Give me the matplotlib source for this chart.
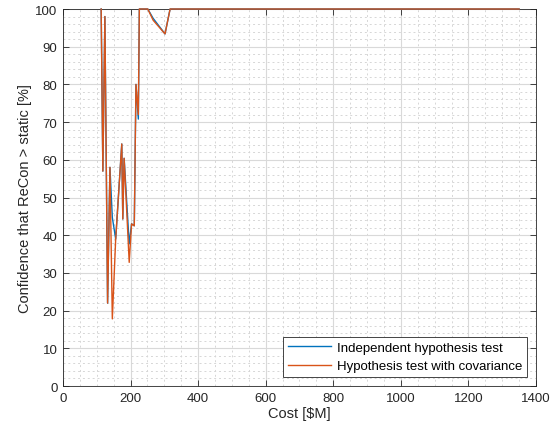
import matplotlib.pyplot as plt
from matplotlib.ticker import MultipleLocator

# ------------------------------------
# Data
# ------------------------------------
cost = [113, 118, 124, 132, 139, 146, 156, 174, 177, 181, 196, 203, 211,
        216, 223, 226, 251, 267, 302, 317, 1350]

# confidence [%] for each hypothesis test
conf_indep = [100, 57, 98, 22, 58, 44.7, 39, 64.2, 44.3, 60.4, 37.7, 43, 42.5,
              80, 70.8, 100, 100, 97.5, 93.4, 100, 100]
conf_cov = [100, 57, 98, 22, 58, 17.8, 39, 64.2, 44.3, 60.4, 32.8, 43, 42.5,
            80, 72, 100, 100, 97.0, 93.4, 100, 100]

blue = "#0072BD"
orange = "#D95319"

# ------------------------------------
# Figure
# ------------------------------------
plt.rcParams["font.family"] = ["Liberation Sans", "DejaVu Sans"]
fig = plt.figure(figsize=(5.54, 4.35), dpi=100)
ax = fig.add_axes([0.1137, 0.1103, 0.8538, 0.8667])

# lines sit on top of the box so the 100 % run stays visible
ax.plot(cost, conf_indep, color=blue, linewidth=1.0, clip_on=False,
        zorder=5, label="Independent hypothesis test")
ax.plot(cost, conf_cov, color=orange, linewidth=1.0, clip_on=False,
        zorder=6, label="Hypothesis test with covariance")

ax.set_xlim(0, 1400)
ax.set_ylim(0, 100)
ax.xaxis.set_major_locator(MultipleLocator(200))
ax.xaxis.set_minor_locator(MultipleLocator(50))
ax.yaxis.set_major_locator(MultipleLocator(10))
ax.yaxis.set_minor_locator(MultipleLocator(2))

ax.grid(which="major", color="#d9d9d9", linewidth=0.8, linestyle="-")
ax.grid(which="minor", color="#d6d6d6", linewidth=0.7, linestyle=(0, (2, 3)))
ax.set_axisbelow(True)

ax.tick_params(which="major", direction="in", length=4, width=0.6,
               top=True, right=True, labelsize=9.5, colors="#262626",
               pad=4)
ax.tick_params(which="minor", length=0)
for s in ax.spines.values():
    s.set_color("#262626")
    s.set_linewidth(0.6)

ax.set_xlabel(r"Cost [\$M]", fontsize=10.5, color="#262626", labelpad=2)
ax.set_ylabel("Confidence that ReCon > static [%]", fontsize=10.5,
              color="#262626", labelpad=2)

leg = ax.legend(loc="lower right", fontsize=9.5, frameon=True, fancybox=False,
                edgecolor="#262626", framealpha=1, handlelength=3.3,
                borderaxespad=0.7, borderpad=0.35, labelspacing=0.45,
                handletextpad=0.4)
leg.set_zorder(10)
leg.get_frame().set_linewidth(0.6)

fig.savefig("out.png", dpi=100)
